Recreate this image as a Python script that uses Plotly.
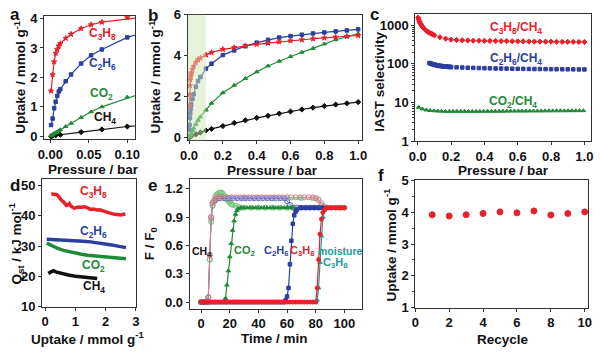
import math
import plotly.graph_objects as go

W, H = 600, 355
FONT = "Arial, Liberation Sans, sans-serif"
RED = "#e8202a"
BLUE = "#2b3f9e"
GREEN = "#1f8a38"
BLACK = "#111111"
TEAL = "#1f9a9a"

# ---------------- data ----------------
# panels a & b : adsorption isotherms (pressure / bar, uptake / mmol g-1)
p_c3h8 = [0.001, 0.003, 0.005, 0.007, 0.009, 0.011, 0.013, 0.02, 0.027, 0.04, 0.053, 0.067, 0.1,
          0.133, 0.2, 0.267, 0.333, 0.4, 0.467, 0.533, 0.6, 0.667, 0.733, 0.8, 0.867, 0.933, 1.0]
q_c3h8 = [1.54, 2.09, 2.53, 2.82, 2.95, 3.07, 3.15, 3.33, 3.47, 3.66, 3.79, 3.88, 4.03,
          4.15, 4.3, 4.39, 4.47, 4.55, 4.61, 4.67, 4.72, 4.77, 4.82, 4.86, 4.9, 4.94, 4.98]
p_c2h6 = [0.001, 0.003, 0.005, 0.007, 0.009, 0.011, 0.013, 0.02, 0.027, 0.04, 0.053, 0.067, 0.1,
          0.133, 0.2, 0.267, 0.333, 0.4, 0.467, 0.533, 0.6, 0.667, 0.733, 0.8, 0.867, 0.933, 1.0]
q_c2h6 = [0.38, 0.6, 0.95, 1.17, 1.37, 1.52, 1.6, 1.87, 2.1, 2.47, 2.75, 2.95, 3.36,
          3.6, 4.02, 4.25, 4.46, 4.63, 4.77, 4.88, 4.95, 5.02, 5.08, 5.13, 5.18, 5.23, 5.28]
p_co2 = [0.001, 0.003, 0.005, 0.007, 0.009, 0.011, 0.013, 0.02, 0.027, 0.04, 0.053, 0.067, 0.1,
         0.133, 0.2, 0.267, 0.333, 0.4, 0.467, 0.533, 0.6, 0.667, 0.733, 0.8, 0.867, 0.933, 1.0]
q_co2 = [0.02, 0.05, 0.09, 0.12, 0.15, 0.18, 0.22, 0.33, 0.44, 0.64, 0.83, 1.0, 1.33,
         1.67, 2.18, 2.55, 2.88, 3.2, 3.49, 3.72, 3.95, 4.16, 4.35, 4.57, 4.77, 4.92, 5.07]
p_ch4 = [0.001, 0.003, 0.007, 0.013, 0.04, 0.067, 0.1,
         0.133, 0.2, 0.267, 0.333, 0.4, 0.467, 0.533, 0.6, 0.667, 0.733, 0.8, 0.867, 0.933, 1.0]
q_ch4 = [0.0, 0.01, 0.03, 0.05, 0.14, 0.23, 0.33,
         0.41, 0.55, 0.7, 0.83, 0.95, 1.05, 1.16, 1.26, 1.36, 1.45, 1.53, 1.6, 1.66, 1.72]

# panel c : IAST selectivity
sel_p_c3h8 = [0.002, 0.005, 0.01, 0.015, 0.02, 0.025, 0.03, 0.04, 0.05, 0.06, 0.07, 0.08, 0.09, 0.1,
              0.133, 0.167, 0.2, 0.233, 0.267, 0.3, 0.333, 0.367, 0.4, 0.433, 0.467, 0.5, 0.533,
              0.567, 0.6, 0.633, 0.667, 0.7, 0.733, 0.767, 0.8, 0.833, 0.867, 0.9, 0.933, 0.967, 1.0]
sel_c3h8 = [1580, 1420, 1250, 1120, 1020, 950, 900, 800, 730, 680, 640, 610, 580, 550,
            490, 450, 425, 415, 408, 403, 400, 397, 395, 393, 391, 389, 387,
            385, 383, 381, 379, 378, 377, 376, 375, 374, 373, 372, 371, 370, 369]
sel_p_c2h6 = [0.07, 0.075, 0.08, 0.085, 0.09, 0.095, 0.1, 0.105, 0.11, 0.115, 0.12, 0.125, 0.13,
              0.135, 0.14, 0.145, 0.15, 0.155, 0.16, 0.165, 0.17, 0.175, 0.18, 0.185, 0.19, 0.195,
              0.2, 0.233, 0.267, 0.3, 0.333, 0.367, 0.4, 0.433, 0.467, 0.5, 0.533, 0.567, 0.6,
              0.633, 0.667, 0.7, 0.733, 0.767, 0.8, 0.833, 0.867, 0.9, 0.933, 0.967, 1.0]
sel_c2h6 = [105, 103, 101, 99.5, 98, 96.5, 95, 94, 93, 92, 91, 90, 89,
            88.5, 88, 87.5, 87, 86.5, 86, 85.5, 85, 84.5, 84, 83.7, 83.4, 83.1,
            82.8, 81.5, 80.5, 79.5, 78.8, 78, 77.4, 76.8, 76.3, 75.8, 75.4, 75, 74.6,
            74.3, 74, 73.7, 73.4, 73.2, 73, 72.8, 72.6, 72.4, 72.2, 72, 71.8]
sel_p_co2 = [0.005, 0.028, 0.051, 0.074, 0.097, 0.12, 0.143, 0.166, 0.189, 0.212, 0.235, 0.258,
             0.281, 0.304, 0.327, 0.35, 0.373, 0.396, 0.419, 0.442, 0.465, 0.488, 0.511, 0.534,
             0.557, 0.58, 0.603, 0.626, 0.649, 0.672, 0.695, 0.718, 0.741, 0.764, 0.787, 0.81,
             0.833, 0.856, 0.879, 0.902, 0.925, 0.948, 0.971, 0.994]
sel_co2 = [7.5, 6.8, 6.4, 6.2, 6.1, 6.0, 5.95, 5.9, 5.9, 5.9, 5.9, 5.9,
           5.9, 5.9, 5.9, 5.9, 5.9, 5.92, 5.92, 5.94, 5.94, 5.96, 5.96, 5.98,
           5.98, 6.0, 6.0, 6.0, 6.02, 6.02, 6.04, 6.04, 6.06, 6.06, 6.08, 6.08,
           6.1, 6.1, 6.1, 6.12, 6.12, 6.14, 6.14, 6.15]

# panel d : isosteric heat (uptake / mmol g-1, Qst / kJ mol-1)
qd_c3h8_n = [0.2, 0.25, 0.3, 0.35, 0.4, 0.45, 0.5, 0.55, 0.6, 0.65, 0.7, 0.75, 0.8, 0.85, 0.9,
             0.95, 1.0, 1.1, 1.2, 1.3, 1.4, 1.5, 1.6, 1.7, 1.8, 1.9, 2.0, 2.1, 2.2, 2.3, 2.4,
             2.5, 2.6, 2.65]
qd_c3h8 = [47.1, 47.2, 47.0, 47.1, 46.9, 46.2, 45.5, 45.0, 44.6, 43.8, 43.4, 43.6, 44.0, 43.2,
           42.7, 42.5, 42.6, 42.9, 42.8, 43.0, 42.6, 42.1, 42.2, 41.9, 42.0, 41.6, 41.4, 41.0,
           40.7, 40.5, 40.4, 40.3, 40.5, 40.6]
qd_c2h6_n = [0.05, 0.3, 0.5, 0.75, 1.0, 1.25, 1.5, 1.75, 2.0, 2.2, 2.4, 2.55, 2.67]
qd_c2h6 = [32.3, 32.2, 32.1, 31.9, 31.8, 31.6, 31.4, 31.1, 30.7, 30.4, 30.0, 29.7, 29.5]
qd_co2_n = [0.05, 0.2, 0.4, 0.6, 0.8, 1.0, 1.2, 1.4, 1.6, 1.8, 2.0, 2.2, 2.4, 2.67]
qd_co2 = [31.0, 30.2, 29.3, 28.6, 28.1, 27.6, 27.3, 27.0, 26.8, 26.6, 26.4, 26.2, 26.0, 25.8]
qd_ch4_n = [0.1, 0.15, 0.2, 0.27, 0.35, 0.45, 0.6, 0.8, 1.0, 1.2, 1.4, 1.6, 1.72]
qd_ch4 = [21.0, 21.3, 21.7, 21.9, 21.5, 21.2, 20.8, 20.4, 20.1, 19.8, 19.5, 19.4, 19.3]

# panel e : breakthrough curves (time / min, F/F0)
t_co2 = [0, 2, 4, 6, 8, 10, 12, 14, 16, 17, 18, 19, 20, 21, 22, 23, 24, 25, 26, 28, 30, 32, 34, 36,
         38, 40, 42, 44, 46, 48, 50, 52, 54, 56, 58, 60, 62, 64]
f_co2 = [0, 0, 0, 0, 0, 0, 0, 0, 0, 0.04, 0.18, 0.33, 0.48, 0.62, 0.76, 0.86, 0.93, 0.97, 0.99, 1.0,
         1.0, 1.0, 1.0, 1.0, 1.0, 1.0, 1.0, 1.0, 1.0, 1.0, 1.0, 1.0, 1.0, 1.0, 1.0, 1.0, 1.0, 1.0]
t_ch4_co2 = [0, 2, 4, 5, 6, 7, 8, 9, 10, 11, 12, 13, 14, 15, 16, 17, 18, 19, 20, 21, 22, 24, 26, 28,
             30, 35, 40, 45, 50, 55, 60, 65]
f_ch4_co2 = [0, 0, 0, 0.05, 0.45, 0.85, 1.02, 1.08, 1.12, 1.14, 1.15, 1.16, 1.16, 1.15, 1.13, 1.11,
             1.09, 1.07, 1.05, 1.04, 1.03, 1.02, 1.01, 1.0, 1.0, 1.0, 1.0, 1.0, 1.0, 1.0, 1.0, 1.0]
t_c2h6 = [0, 2, 4, 6, 8, 10, 12, 14, 16, 18, 20, 22, 24, 26, 28, 30, 32, 34, 36, 38, 40, 42, 44, 46,
          48, 50, 52, 54, 56, 58, 59, 60, 61, 62, 63, 64, 65, 66, 67, 69, 71, 73, 75, 77, 79, 81, 83, 85]
f_c2h6 = [0, 0, 0, 0, 0, 0, 0, 0, 0, 0, 0, 0, 0, 0, 0, 0, 0, 0, 0, 0, 0, 0, 0, 0,
          0, 0, 0, 0, 0, 0, 0.02, 0.06, 0.15, 0.4, 0.65, 0.83, 0.92, 0.96, 0.98, 1.0, 1.0, 1.0, 1.0,
          1.0, 1.0, 1.0, 1.0, 1.0]
t_ch4_c2h6 = [0, 2, 4, 5, 6, 7, 8, 10, 13, 16, 19, 22, 25, 28, 31, 34, 37, 40, 43, 46, 49, 52, 55,
              58, 60, 62, 64, 67, 70, 73, 76, 79, 82, 85]
f_ch4_c2h6 = [0, 0, 0, 0.05, 0.5, 0.9, 1.05, 1.08, 1.1, 1.1, 1.1, 1.1, 1.1, 1.1, 1.1, 1.1, 1.1, 1.1,
              1.1, 1.1, 1.1, 1.1, 1.1, 1.1, 1.07, 1.03, 1.0, 1.0, 1.0, 1.0, 1.0, 1.0, 1.0, 1.0]
t_c3h8 = [0, 2, 4, 6, 8, 10, 12, 14, 16, 18, 20, 22, 24, 26, 28, 30, 32, 34, 36, 38, 40, 42, 44, 46,
          48, 50, 52, 54, 56, 58, 60, 62, 64, 66, 68, 70, 72, 74, 76, 78, 80, 81, 82, 83, 84, 85,
          86, 88, 90, 92, 94, 96, 98, 100]
f_c3h8 = [0, 0, 0, 0, 0, 0, 0, 0, 0, 0, 0, 0, 0, 0, 0, 0, 0, 0, 0, 0, 0, 0, 0, 0,
          0, 0, 0, 0, 0, 0, 0, 0, 0, 0, 0, 0, 0, 0, 0, 0, 0, 0.15, 0.45, 0.72, 0.88, 0.95,
          0.98, 1.0, 1.0, 1.0, 1.0, 1.0, 1.0, 1.0]
t_ch4_c3h8 = [0, 2, 4, 5, 6, 7, 8, 10, 12, 15, 18, 21, 24, 27, 30, 33, 36, 39, 42, 45, 48, 51, 54,
              57, 60, 63, 66, 69, 72, 75, 78, 80, 82, 84, 86, 88, 91, 94, 97, 100]
f_ch4_c3h8 = [0, 0, 0, 0.05, 0.5, 0.9, 1.05, 1.1, 1.11, 1.11, 1.11, 1.11, 1.11, 1.11, 1.11, 1.11,
              1.11, 1.11, 1.11, 1.11, 1.11, 1.11, 1.11, 1.11, 1.11, 1.11, 1.11, 1.11, 1.11, 1.11,
              1.11, 1.1, 1.08, 1.03, 1.01, 1.0, 1.0, 1.0, 1.0, 1.0]
t_c3h8_wet = [0, 10, 20, 30, 40, 50, 60, 70, 78, 80, 81, 82, 83, 84, 85, 86, 88, 90, 92, 94, 96, 98, 100]
f_c3h8_wet = [0, 0, 0, 0, 0, 0, 0, 0, 0, 0, 0.02, 0.15, 0.42, 0.7, 0.9, 0.97, 1.0, 1.0, 1.0, 1.0,
              1.0, 1.0, 1.0]
t_ch4_wet = [0, 2, 4, 5, 6, 7, 8, 9, 10, 12, 20, 30, 40, 50, 60, 70, 78, 80, 82, 84, 86, 88]
f_ch4_wet = [0, 0, 0, 0.05, 0.45, 0.88, 1.02, 1.06, 1.08, 1.1, 1.1, 1.1, 1.1, 1.1, 1.1, 1.1, 1.1,
             1.1, 1.09, 1.05, 1.01, 1.0]

# panel f : recycling
cycles = [1, 2, 3, 4, 5, 6, 7, 8, 9, 10]
uptake_cycles = [3.92, 3.88, 3.92, 3.96, 4.01, 3.98, 4.04, 3.91, 3.96, 4.01]

# ---------------- figure ----------------
fig = go.Figure()


def add(x, y, ax, color, symbol=None, size=4, width=1.2, mode="lines+markers"):
    marker = dict(color=color, size=size, symbol=symbol or "circle",
                  line=dict(width=1, color=color))
    fig.add_trace(go.Scatter(x=x, y=y, mode=mode, xaxis="x" + ax, yaxis="y" + ax,
                             line=dict(color=color, width=width), marker=marker,
                             showlegend=False, hoverinfo="skip"))


# a
add(p_ch4, q_ch4, "", BLACK, "diamond", 4)
add(p_co2, q_co2, "", GREEN, "triangle-up", 4)
add(p_c2h6, q_c2h6, "", BLUE, "square", 3.5)
add(p_c3h8, q_c3h8, "", RED, "star", 4)
# b
add(p_ch4, q_ch4, "2", BLACK, "diamond", 4)
add(p_co2, q_co2, "2", GREEN, "triangle-up", 4)
add(p_c2h6, q_c2h6, "2", BLUE, "square", 3.5)
add(p_c3h8, q_c3h8, "2", RED, "star", 4)
# c
add(sel_p_c3h8, sel_c3h8, "3", RED, "diamond", 4, mode="markers")
add(sel_p_c2h6, sel_c2h6, "3", BLUE, "square", 3.5, mode="markers")
add(sel_p_co2, sel_co2, "3", GREEN, "triangle-up", 4, mode="markers")
# d
add(qd_c3h8_n, qd_c3h8, "4", RED, mode="lines", width=3.5)
add(qd_c2h6_n, qd_c2h6, "4", BLUE, mode="lines", width=3.5)
add(qd_co2_n, qd_co2, "4", GREEN, mode="lines", width=3.5)
add(qd_ch4_n, qd_ch4, "4", BLACK, mode="lines", width=3.5)
# e
add(t_ch4_wet, f_ch4_wet, "5", "#7fc9c4", "circle-open", 5, width=1)
add(t_ch4_co2, f_ch4_co2, "5", "#6cbf6c", "circle-open", 5, width=1)
add(t_ch4_c2h6, f_ch4_c2h6, "5", "#5a6fc0", "circle-open", 5, width=1)
add(t_ch4_c3h8, f_ch4_c3h8, "5", "#e77b7f", "circle-open", 5, width=1)
add(t_co2, f_co2, "5", GREEN, "triangle-up", 4)
add(t_c2h6, f_c2h6, "5", BLUE, "square", 3.5)
add(t_c3h8_wet, f_c3h8_wet, "5", TEAL, "triangle-up", 4)
add(t_c3h8, f_c3h8, "5", RED, "circle", 4)
# f
add(cycles, uptake_cycles, "6", RED, "circle", 6, mode="markers")


def dom(x0, x1, y0, y1):
    return [x0 / W, x1 / W], [1 - y1 / H, 1 - y0 / H]


tickfont = dict(family=FONT, size=13, color="#111", weight="bold")


def axis(domain, rng, anchor, **kw):
    d = dict(domain=domain, range=rng, anchor=anchor, showline=True, mirror=True,
             linecolor="#333", linewidth=1, ticks="outside", ticklen=3, tickcolor="#333",
             showgrid=False, zeroline=False, tickfont=tickfont)
    d.update(kw)
    return d


layout = dict(width=W, height=H, margin=dict(l=0, r=0, t=0, b=0),
              plot_bgcolor="white", paper_bgcolor="white", showlegend=False,
              font=dict(family=FONT))

minor_log = dict(ticks="outside", ticklen=2, tickcolor="#333",
                 tickvals=[2, 3, 4, 5, 6, 7, 8, 9, 20, 30, 40, 50, 60, 70, 80, 90,
                           200, 300, 400, 500, 600, 700, 800, 900])

panels = [
    ("", (37, 130, 9, 138), [-0.008, 0.11], [-0.1, 4.1],
     dict(tickvals=[0, 0.05, 0.1], ticktext=["0.00", "0.05", "0.10"]), dict(dtick=1)),
    ("2", (184, 362, 8, 139), [-0.008, 1.02], [-0.14, 6.0],
     dict(dtick=0.2, tickformat=".1f"), dict(dtick=2)),
    ("3", (417, 597, 7, 140), [-0.015, 1.04], [0, 3.3],
     dict(dtick=0.2, tickformat=".1f"),
     dict(type="log", tickvals=[1, 10, 100, 1000], ticktext=["1", "10", "100", "1000"],
          minor=minor_log)),
    ("4", (35, 131, 180, 313), [-0.1, 3.0], [10, 52], dict(dtick=1), dict(dtick=10)),
    ("5", (186, 362, 180, 315), [-8, 112], [-0.07, 1.3],
     dict(tickvals=[0, 20, 40, 60, 80, 100]),
     dict(tickvals=[0, 0.3, 0.6, 0.9, 1.2], tickformat=".1f")),
    ("6", (417, 594, 181, 314), [0, 10.2], [1, 5], dict(dtick=2),
     dict(dtick=1, minor=dict(ticks="outside", ticklen=2, tickcolor="#333", dtick=0.5))),
]

for ax, (x0, x1, y0, y1), xr, yr, xkw, ykw in panels:
    dx, dy = dom(x0, x1, y0, y1)
    layout["xaxis" + ax] = axis(dx, xr, "y" + ax, **xkw)
    layout["yaxis" + ax] = axis(dy, yr, "x" + ax, **ykw)

fig.update_layout(**layout)

# shaded low-pressure region in b
fig.add_shape(type="rect", xref="x2", yref="y2 domain", x0=-0.008, x1=0.1, y0=0, y1=1,
              fillcolor="#cfe6b8", opacity=0.5, line=dict(width=0), layer="above")


def ptext(text, px, py, size=13.5, angle=0):
    fig.add_annotation(text=text, x=px / W, y=1 - py / H, xref="paper", yref="paper",
                       showarrow=False, xanchor="center", yanchor="middle", textangle=angle,
                       font=dict(family=FONT, size=size, color="#111", weight="bold"))


# axis titles
ptext("Pressure / bar", 88, 170)
ptext("Pressure / bar", 271, 171)
ptext("Pressure / bar", 507, 171)
ptext("Uptake / mmol g<sup>-1</sup>", 81, 346)
ptext("Time / min", 273, 346)
ptext("Recycle", 507, 347)
ptext("Uptake / mmol g<sup>-1</sup>", 12, 73, angle=-90)
ptext("Uptake / mmol g<sup>-1</sup>", 150, 73, angle=-90)
ptext("IAST selectivity", 381, 78, angle=-90)
ptext("Q<sub>st</sub> / kJ mol<sup>-1</sup>", 8, 247, angle=-90)
ptext("F / F<sub>0</sub>", 146, 247, angle=-90)
ptext("Uptake / mmol g<sup>-1</sup>", 391, 248, angle=-90)

# panel letters
for letter, px, py in [("a", 7, 8), ("b", 148, 9), ("c", 375, 8), ("d", 7, 186),
                       ("e", 148, 186), ("f", 382, 176)]:
    ptext(letter, px, py, size=17)


def label(text, x, y, ax, color, size=12, xanchor="center"):
    fig.add_annotation(text=text, x=x, y=y, xref="x" + ax, yref="y" + ax, showarrow=False,
                       xanchor=xanchor, yanchor="middle",
                       font=dict(family=FONT, size=size, color=color, weight="bold"))


label("C<sub>3</sub>H<sub>8</sub>", 0.068, 3.48, "", RED)
label("C<sub>2</sub>H<sub>6</sub>", 0.068, 2.44, "", BLUE)
label("CO<sub>2</sub>", 0.066, 1.43, "", GREEN)
label("CH<sub>4</sub>", 0.071, 0.62, "", BLACK)

label("C<sub>3</sub>H<sub>8</sub>/CH<sub>4</sub>", 0.59, math.log10(850), "3", RED)
label("C<sub>2</sub>H<sub>6</sub>/CH<sub>4</sub>", 0.59, math.log10(135), "3", BLUE)
label("CO<sub>2</sub>/CH<sub>4</sub>", 0.57, math.log10(10), "3", GREEN)

label("C<sub>3</sub>H<sub>8</sub>", 1.6, 48.0, "4", RED)
label("C<sub>2</sub>H<sub>6</sub>", 1.6, 34.5, "4", BLUE)
label("CO<sub>2</sub>", 1.6, 23.5, "4", GREEN)
label("CH<sub>4</sub>", 1.6, 16.6, "4", BLACK)

label("CH<sub>4</sub>", -7.6, 0.53, "5", BLACK, size=10.5, xanchor="left")
label("CO<sub>2</sub>", 30, 0.54, "5", GREEN, size=11)
label("C<sub>2</sub>H<sub>6</sub>", 52, 0.54, "5", BLUE, size=11)
label("C<sub>3</sub>H<sub>8</sub>", 71, 0.54, "5", RED, size=11)
label("moisture", 97, 0.54, "5", TEAL, size=10.5)
label("C<sub>3</sub>H<sub>8</sub>", 94, 0.41, "5", TEAL, size=11)

# remove the browser's default 8px page margin so the figure sits at the window origin
fig.write_html("out.html", config={"displayModeBar": False},
               post_script="document.body.style.margin='0';document.body.style.padding='0';")
